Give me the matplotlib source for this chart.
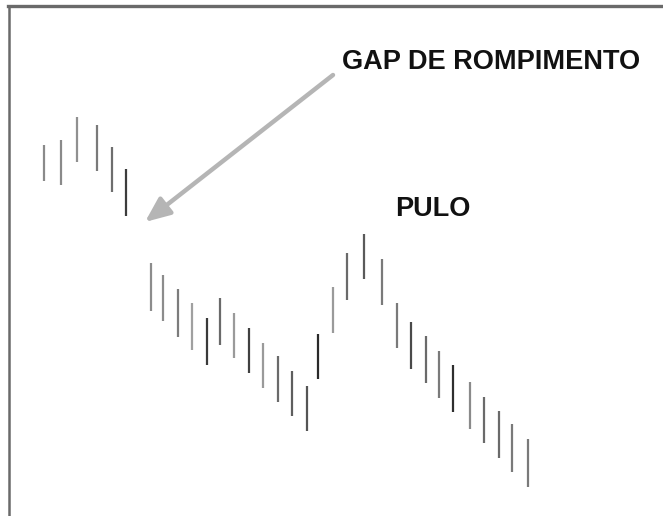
import matplotlib
matplotlib.use("Agg")
import matplotlib.pyplot as plt
from matplotlib.lines import Line2D

# posição horizontal de cada barra (dias, na escala do desenho)
dias = [44, 61, 77, 97, 112, 126,
        151, 163, 178, 192, 207, 220, 234, 249, 263, 278, 292, 307,
        318, 333, 347, 364, 382, 397, 411, 426, 439, 453, 470, 484, 499, 512, 528]
# máximas e mínimas (preço)
maximas = [37.1, 37.6, 39.9, 39.1, 36.9, 34.7,
           25.3, 24.1, 22.7, 21.3, 19.8, 21.8, 20.3, 18.8, 17.3, 16.0, 14.5, 13.0,
           18.2, 22.9, 26.3, 28.2, 25.7, 21.3, 19.4, 18.0, 16.5, 15.1, 13.4, 11.9, 10.5, 9.2, 7.7]
minimas = [33.5, 33.1, 35.4, 34.5, 32.4, 30.0,
           20.5, 19.5, 17.9, 16.6, 15.1, 17.1, 15.8, 14.3, 12.8, 11.4, 10.0, 8.5,
           13.7, 18.3, 21.6, 23.7, 21.1, 16.8, 14.7, 13.3, 11.8, 10.4, 8.7, 7.3, 5.8, 4.4, 2.9]

rotulo_gap = "GAP DE ROMPIMENTO"
rotulo_pulo = "PULO"

# tons das barras (a imagem original mistura cinzas e preto)
tons = ["#8a8a8a", "#8a8a8a", "#909090", "#7a7a7a", "#6e6e6e", "#3c3c3c",
        "#8c8c8c", "#8c8c8c", "#7c7c7c", "#a0a0a0", "#3a3a3a", "#6a6a6a", "#9a9a9a",
        "#404040", "#9a9a9a", "#6a6a6a", "#5e5e5e", "#555555",
        "#2a2a2a", "#9a9a9a", "#6a6a6a", "#5a5a5a", "#7a7a7a", "#7a7a7a", "#4a4a4a",
        "#6a6a6a", "#7a7a7a", "#2e2e2e", "#8a8a8a", "#6a6a6a", "#6a6a6a", "#7a7a7a", "#7a7a7a"]

fig = plt.figure(figsize=(6.63, 5.16), dpi=100)
fig.patch.set_facecolor("white")
ax = fig.add_axes([0, 0, 1, 1])
ax.set_xlim(0, 663)
ax.set_ylim(0, 51.6)
ax.axis("off")

ax.vlines(dias, minimas, maximas, colors=tons, linewidth=1.6)

# seta do gap
ax.annotate("", xy=(145, 29.4), xytext=(333, 44.1),
            arrowprops=dict(arrowstyle="-|>,head_length=0.75,head_width=0.32",
                            mutation_scale=20, color="#b5b5b5", lw=3.2,
                            shrinkA=0, shrinkB=0))

ax.text(342, 44.7, rotulo_gap, fontsize=19.5, fontweight="bold",
        family="Liberation Sans", color="#111111", ha="left", va="baseline")
ax.text(395, 29.95, rotulo_pulo, fontsize=19.5, fontweight="bold",
        family="Liberation Sans", color="#111111", ha="left", va="baseline")

# moldura (topo e lado esquerdo)
fig.add_artist(Line2D([8 / 663, 1], [1 - 6 / 516, 1 - 6 / 516],
                      transform=fig.transFigure, color="#6a6a6a", lw=2.4))
fig.add_artist(Line2D([8.5 / 663, 8.5 / 663], [0, 1 - 6 / 516],
                      transform=fig.transFigure, color="#6a6a6a", lw=1.8))

fig.savefig("out.png", dpi=100, facecolor="white")
